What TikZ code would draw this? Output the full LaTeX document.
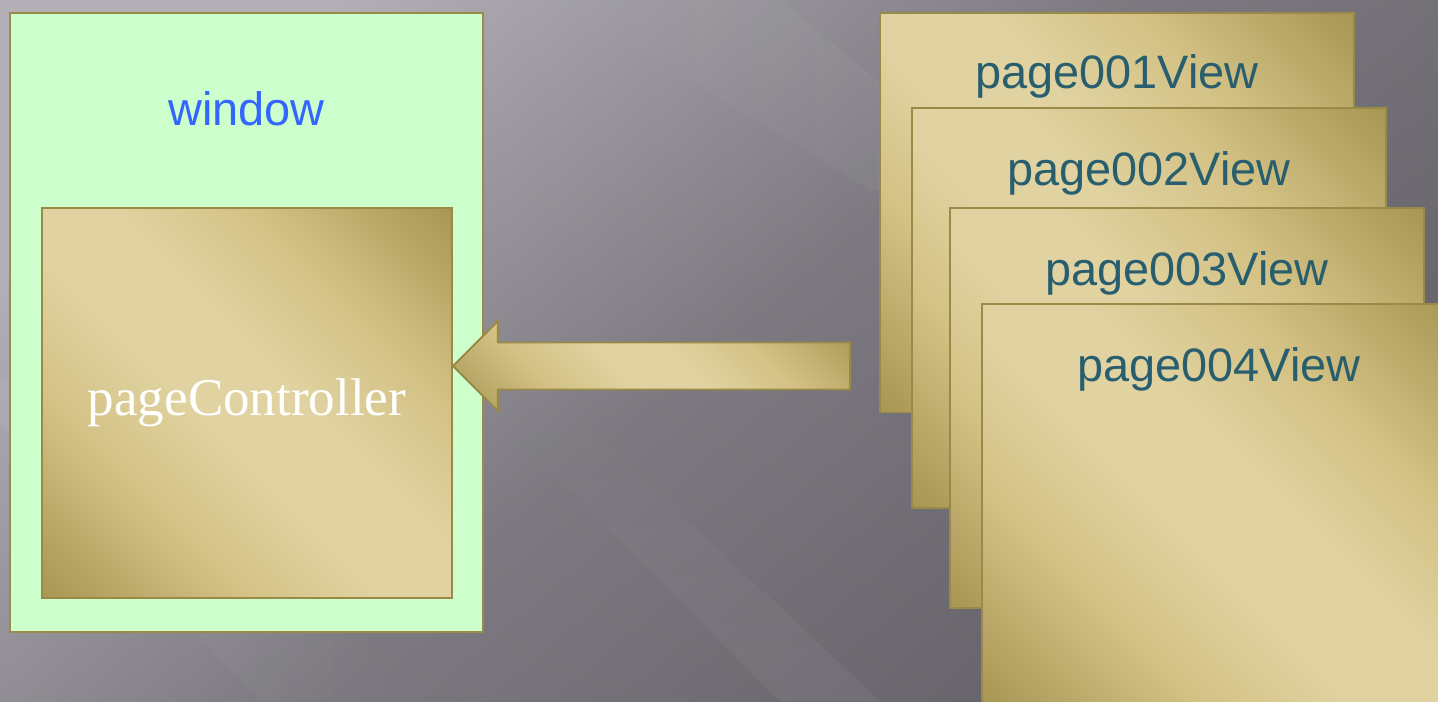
\documentclass[tikz,border=0pt]{standalone}
\usepackage{fontspec}
\setmainfont{Liberation Serif}
\setsansfont{Liberation Sans}
\usetikzlibrary{positioning,calc,fadings}

\definecolor{bglight}{HTML}{B2B0B6}
\definecolor{bgmid}{HTML}{7C7980}
\definecolor{bgdark}{HTML}{646168}
\definecolor{goldlt}{HTML}{E0D3A1}
\definecolor{goldmd}{HTML}{D3C184}
\definecolor{golddk}{HTML}{A49250}
\definecolor{goldln}{HTML}{9A8A48}
\definecolor{mint}{HTML}{CCFFCC}
\definecolor{winblue}{HTML}{3366FF}
\definecolor{viewteal}{HTML}{285E6E}

\pgfdeclareverticalshading{goldshade}{100bp}{color(0bp)=(golddk); color(13bp)=(golddk);
  color(32bp)=(goldmd); color(45bp)=(goldlt); color(55bp)=(goldlt); color(68bp)=(goldmd);
  color(87bp)=(golddk); color(100bp)=(golddk)}

\tikzset{
  goldbox/.style={draw=goldln, line width=1.1pt, shading=goldshade, shading angle=-45, inner sep=0pt},
  winbox/.style={draw=goldln, line width=1.1pt, fill=mint, inner sep=0pt},
  pagebox/.style={goldbox, minimum width=9.48cm, minimum height=8cm},
  viewtext/.style={text=viewteal, font=\sffamily\fontsize{26.7}{32}\selectfont, inner sep=0pt},
}

\begin{document}
\begin{tikzpicture}[x=0.02cm, y=-0.02cm]
	\clip (0,0) rectangle (1438,701);
	%fondo%
	\shade [top color=bglight, bottom color=bgdark, middle color=bgmid, shading angle=40] (0,0) rectangle (1438,701);
	\fill [white, opacity=.06, path fading=west] (560,0) -- (780,0) -- (1010,190) -- (870,190) -- cycle;
	\fill [white, opacity=.07, path fading=east] (-40,380) -- (60,380) -- (420,701) -- (260,701) -- cycle;
	\fill [white, opacity=.05, path fading=north] (480,400) -- (560,400) -- (880,701) -- (780,701) -- cycle;
	%ventana%
	\node [winbox, minimum width=9.46cm, minimum height=12.38cm] (win) at (246.5,322.5) {};
	\node [text=winblue, font=\sffamily\fontsize{26.7}{32}\selectfont, inner sep=0pt] (wintxt) at ($(win.north)+(0,97)$) {window};
	\node [goldbox, minimum width=8.2cm, minimum height=7.8cm, text=white,
		font=\fontsize{30.2}{36}\selectfont] (ctrl) at (247,403) {pageController};
	%paginas%
	\node [pagebox] (p1) at (1117,212.5) {};
	\node [viewtext] (t1) at ($(p1.north)+(0,65)$) {page001View};
	\node [pagebox] (p2) at (1149,308) {};
	\node [viewtext] (t2) at ($(p2.north)+(0,66)$) {page002View};
	\node [pagebox] (p3) at (1187,408) {};
	\node [viewtext] (t3) at ($(p3.north)+(0,66)$) {page003View};
	\node [pagebox] (p4) at (1219,504) {};
	\node [viewtext] (t4) at ($(p4.north)+(0,66)$) {page004View};
	%flecha%
	\coordinate (tip) at ($(ctrl.east)+(0,-37)$);
	\coordinate (tail) at ($(tip -| p1.west)+(-29,0)$);
	\draw [goldbox] (tip) -- ($(tip)+(45,-45)$) -- ($(tip)+(45,-23.5)$) -- ($(tail)+(0,-23.5)$)
		-- ($(tail)+(0,23.5)$) -- ($(tip)+(45,23.5)$) -- ($(tip)+(45,45)$) -- cycle;
\end{tikzpicture}
\end{document}
